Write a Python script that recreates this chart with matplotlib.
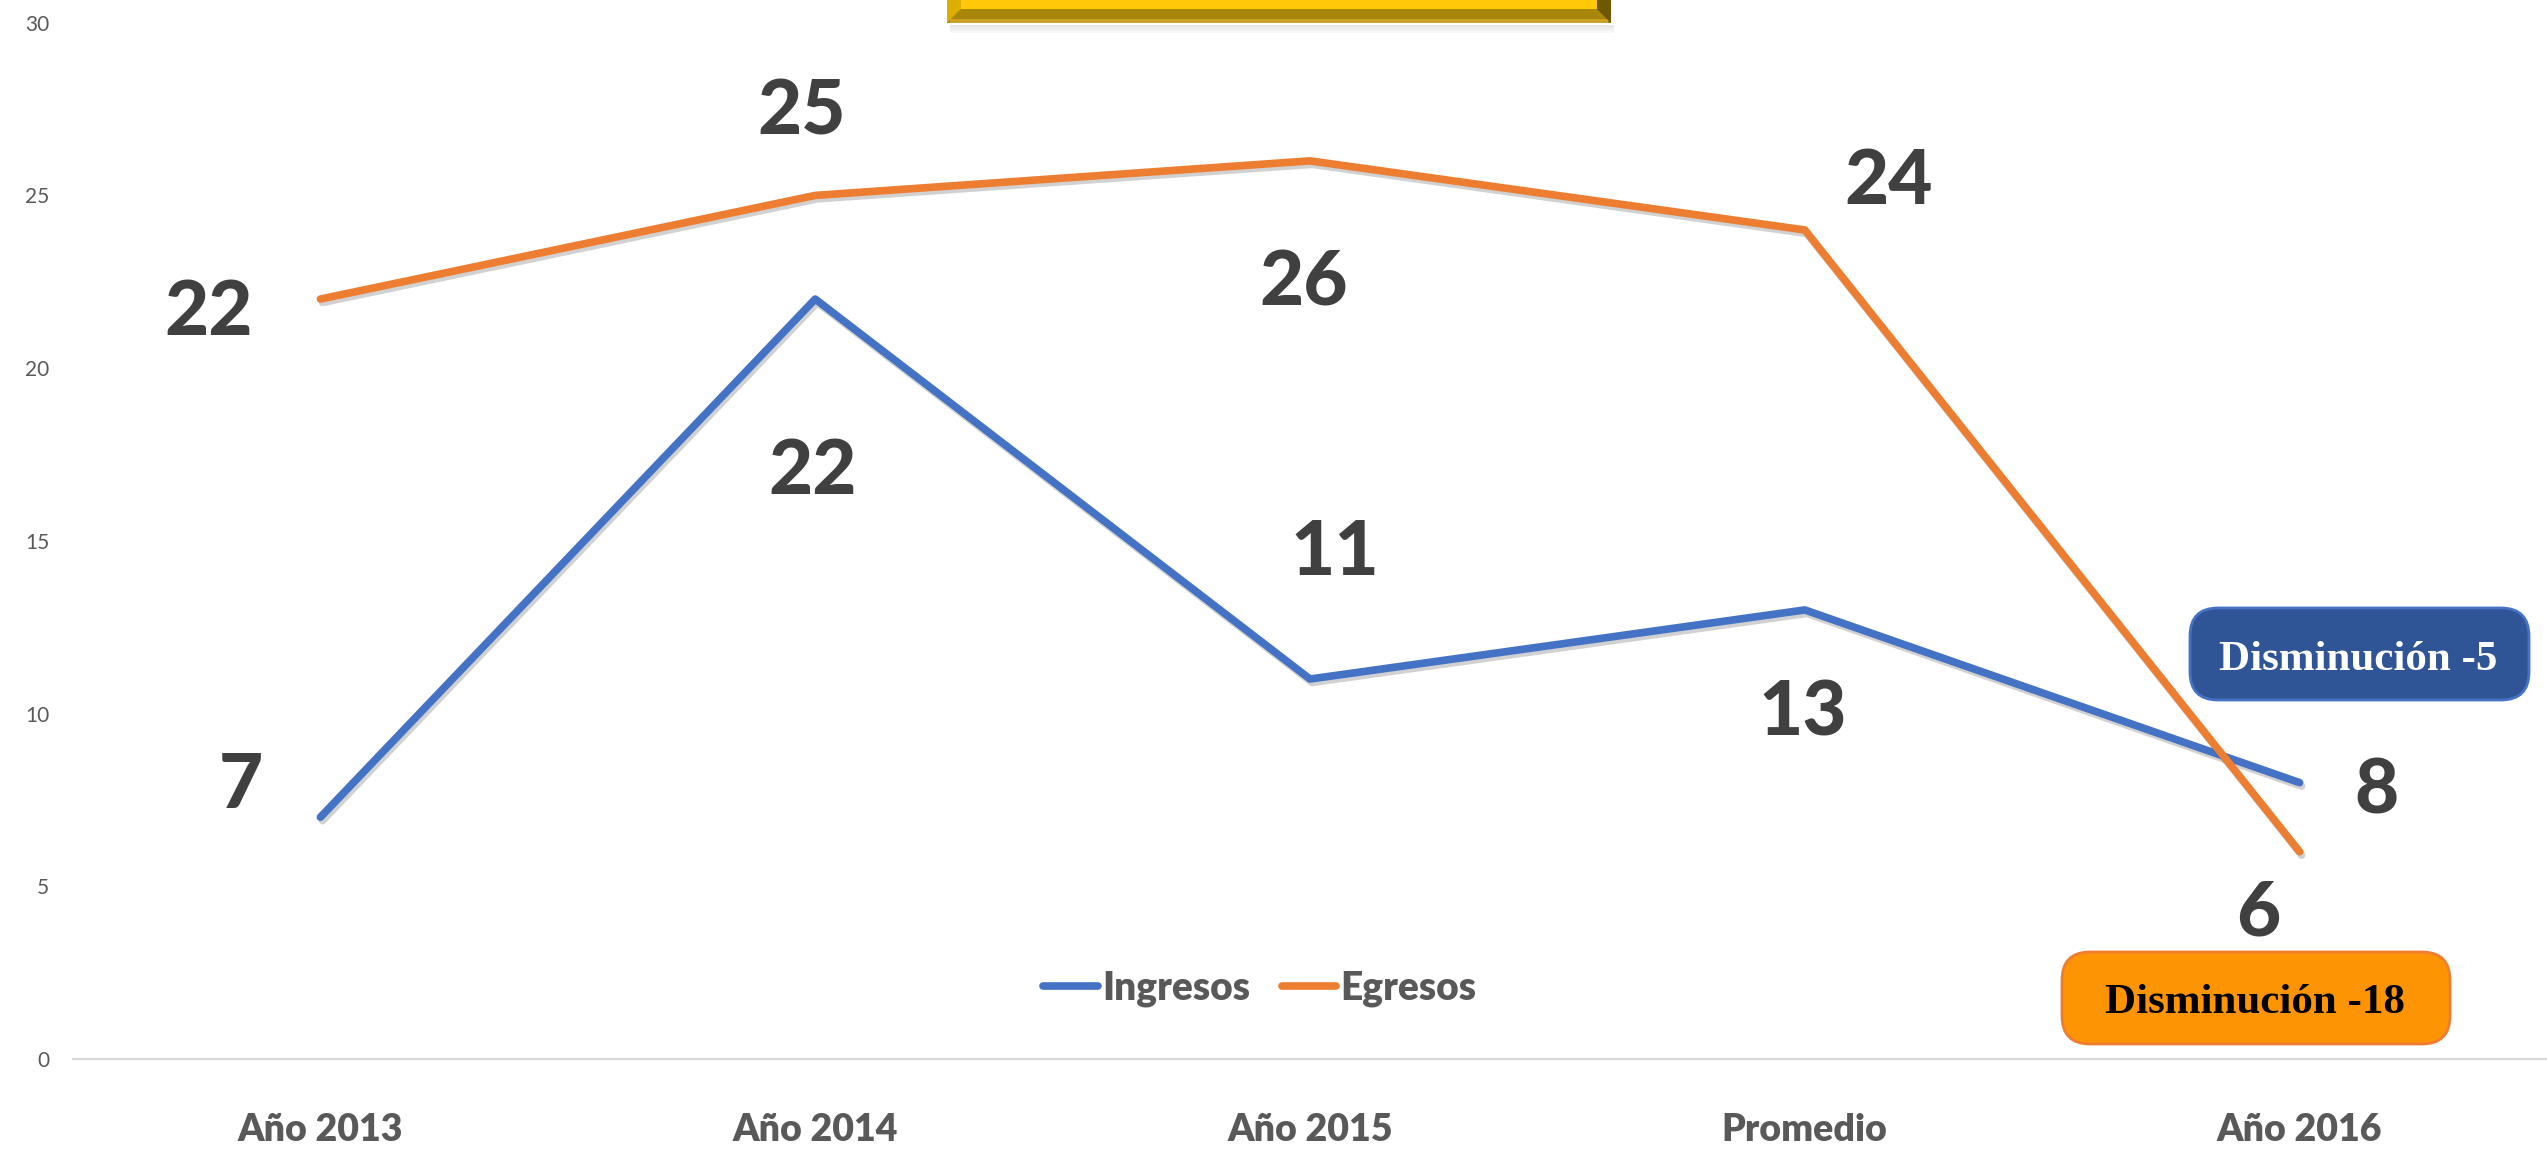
import matplotlib
matplotlib.use('Agg')
import matplotlib.pyplot as plt
from matplotlib import patheffects as pe
from matplotlib.patches import Polygon, Rectangle, FancyBboxPatch

# ---- data ----
categories = ['Año 2013', 'Año 2014', 'Año 2015', 'Promedio', 'Año 2016']
ingresos = [7, 22, 11, 13, 8]
egresos = [22, 25, 26, 24, 6]
yticks = [0, 5, 10, 15, 20, 25, 30]
series_names = ['Ingresos', 'Egresos']
note_ingresos = 'Disminución -5'
note_egresos = 'Disminución -18'

# ---- layout ----
W, H = 2547, 1153
fig = plt.figure(figsize=(W / 100, H / 100), dpi=100)
ax = fig.add_axes([73 / W, 1 - 1059 / H, 1 - 73 / W, (1059 - 22.7) / H])

BLUE = '#4472C4'
ORANGE = '#ED7D31'
SANS = ['Lato', 'DejaVu Sans']
SERIF = ['Liberation Serif', 'DejaVu Serif']

x = list(range(len(categories)))
shadow = [pe.SimpleLineShadow(offset=(1.5, -2.5), shadow_color='black', alpha=0.18), pe.Normal()]
ax.plot(x, ingresos, color=BLUE, lw=5.5, solid_capstyle='round', solid_joinstyle='round',
        label=series_names[0], path_effects=shadow, zorder=3)
ax.plot(x, egresos, color=ORANGE, lw=5.5, solid_capstyle='round', solid_joinstyle='round',
        label=series_names[1], path_effects=shadow, zorder=3)

ax.set_xlim(-0.5, len(categories) - 0.5)
ax.set_ylim(0, 30)
for s in ['top', 'right', 'left']:
    ax.spines[s].set_visible(False)
ax.spines['bottom'].set_color('#D9D9D9')
ax.spines['bottom'].set_linewidth(1.6)

ax.set_xticks(x)
ax.set_xticklabels(categories, fontsize=27, fontweight='heavy', color='#595959', family=SANS)
ax.tick_params(axis='x', length=0, pad=39)
ax.set_yticks(yticks)
ax.set_yticklabels([str(v) for v in yticks], fontsize=15, color='#595959', family=SANS)
ax.tick_params(axis='y', length=0, pad=17)

# data labels (offsets in pixels from the point: label centre)
ing_off = [(-80, 37), (-3, -167), (25, 132), (-2, -98), (77, -3)]
egr_off = [(-112, -8), (-14, 88), (-6, -117), (84, 53), (-41, -56)]
CAP = 55
for vals, offs in ((ingresos, ing_off), (egresos, egr_off)):
    for xi, v, (dx, dy) in zip(x, vals, offs):
        ax.annotate(str(v), (xi, v), xytext=(dx, dy - CAP / 2), textcoords='offset pixels',
                    ha='center', va='baseline', fontsize=55, fontweight=900,
                    color='#404040', family=SANS, zorder=4)

leg = ax.legend(loc='center', bbox_to_anchor=(1260 / W, 1 - 988 / H), bbox_transform=fig.transFigure,
                ncol=2, frameon=False, prop={'family': SANS, 'weight': 'heavy', 'size': 28},
                labelcolor='#595959', handlelength=1.4, handletextpad=0.12, columnspacing=0.8)
for h in leg.get_lines():
    h.set_path_effects([])
    h.set_linewidth(5.5)
    h.set_solid_capstyle('round')


def fx(px):
    return px / W


def fy(py_top):
    return 1 - py_top / H


# ---- yellow bevel box at the top ----
L, R, B, bev = 947, 1611, 23, 14
for i, a in enumerate([0.10, 0.07, 0.05, 0.03]):
    fig.patches.append(Rectangle((fx(L + 3), fy(B + 2 + 2 * (i + 1))), fx(R - L), 2 / H,
                                 transform=fig.transFigure, facecolor='black', alpha=a, lw=0))
fig.patches.append(Polygon([(fx(L), fy(-20)), (fx(R), fy(-20)), (fx(R), fy(B)), (fx(L), fy(B))],
                           closed=True, transform=fig.transFigure, facecolor='#8C7000', lw=0))
fig.patches.append(Polygon([(fx(L), fy(B)), (fx(R), fy(B)), (fx(R - bev), fy(B - bev)), (fx(L + bev), fy(B - bev))],
                           closed=True, transform=fig.transFigure, facecolor='#A8860A', lw=0))
fig.patches.append(Rectangle((fx(L + 3), fy(B)), fx(R - L - 6), 4 / H, transform=fig.transFigure,
                             facecolor='#C9A227', lw=0))
fig.patches.append(Polygon([(fx(L), fy(B)), (fx(L + bev), fy(B - bev)), (fx(L + bev), fy(-20)), (fx(L), fy(-20))],
                           closed=True, transform=fig.transFigure, facecolor='#DDAE00', lw=0))
fig.patches.append(Polygon([(fx(R), fy(B)), (fx(R - bev), fy(B - bev)), (fx(R - bev), fy(-20)), (fx(R), fy(-20))],
                           closed=True, transform=fig.transFigure, facecolor='#6E5800', lw=0))
fig.patches.append(Rectangle((fx(L + bev), fy(B - bev)), fx(R - L - 2 * bev), (B - bev + 20) / H,
                             transform=fig.transFigure, facecolor='#FFC808', lw=0))


# ---- annotation boxes ----
def note_box(x0, x1, ytop, ybot, face, edge, text, tcolor, tcx, tcy):
    box = FancyBboxPatch((fx(x0), fy(ybot)), fx(x1 - x0), (ybot - ytop) / H,
                         boxstyle='round,pad=0,rounding_size=0.011', mutation_aspect=W / H,
                         transform=fig.transFigure, facecolor=face, edgecolor=edge, lw=2, zorder=5)
    fig.patches.append(box)
    fig.text(fx(tcx), fy(tcy + 14), text, ha='center', va='baseline', fontsize=31, fontweight='bold',
             color=tcolor, family=SERIF, zorder=6)


note_box(2190, 2529, 608, 700, '#2F5597', BLUE, note_ingresos, 'white', 2358, 656)
note_box(2062, 2450, 952, 1044, '#FD9404', ORANGE, note_egresos, 'black', 2255, 999)

fig.savefig('out.png', dpi=100, facecolor='white')
